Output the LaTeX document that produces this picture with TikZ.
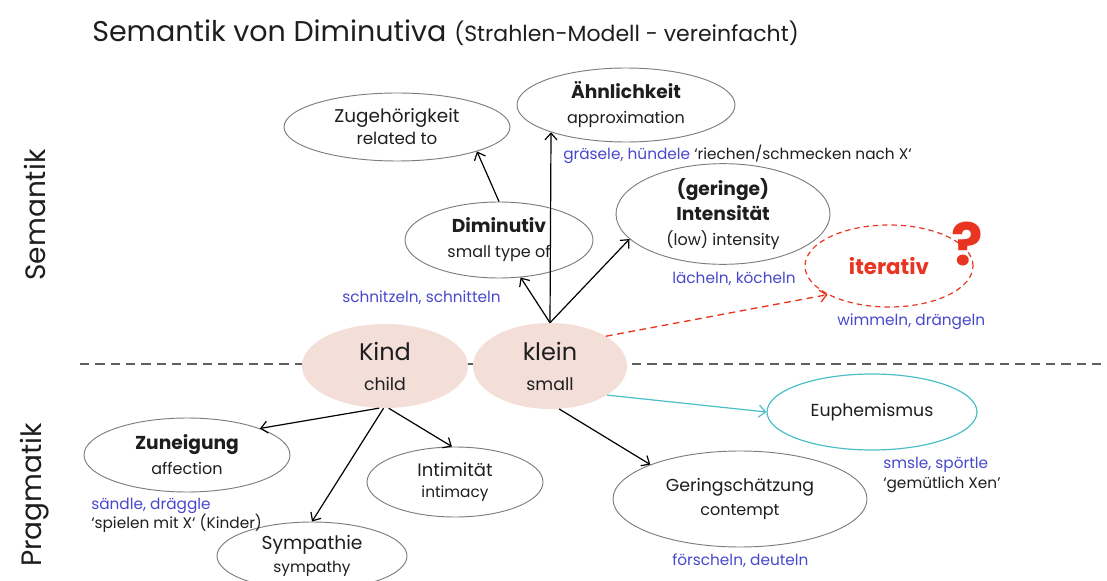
\documentclass[tikz,border=0pt]{standalone}
\usepackage{fontspec}
\setmainfont{Poppins}
\usetikzlibrary{shapes.geometric,arrows.meta}
\definecolor{exblue}{RGB}{72,72,205}
\definecolor{qred}{RGB}{232,52,32}
\definecolor{qcyan}{RGB}{75,190,200}
\definecolor{pinkfill}{RGB}{243,222,216}
\definecolor{ellgray}{RGB}{125,125,125}
\definecolor{sepgray}{RGB}{95,95,95}
\definecolor{txt}{RGB}{30,30,30}
\tikzset{
  ell/.style={ellipse, draw=ellgray, line width=0.7pt, inner sep=0pt, align=center, text=txt,
              font=\fontsize{12}{18.75}\selectfont},
  core/.style={ellipse, fill=pinkfill, draw=none, inner sep=0pt, align=center, text=txt,
              font=\fontsize{13}{22.5}\selectfont},
  arr/.style={-{Straight Barb[length=5pt,width=9pt]}, line width=0.9pt, draw=black},
  ex/.style={text=exblue, font=\fontsize{11.5}{14}\selectfont, anchor=base west, inner sep=0pt},
  gloss/.style={text=txt, font=\fontsize{11.5}{14}\selectfont, anchor=base west, inner sep=0pt},
  side/.style={rotate=90, text=txt, font=\fontsize{21}{24}\selectfont, inner sep=0pt}
}
\begin{document}
\begin{tikzpicture}[x=0.75pt,y=-0.75pt]
\useasboundingbox (0,0) rectangle (1107,581);
\begin{scope}
\clip (0,0) rectangle (1107,581);

% title
\node[anchor=base west, inner sep=0pt, text=txt] (title) at (92,42)
  {\fontsize{21.4}{25}\selectfont Semantik von Diminutiva\hspace{6pt}\fontsize{16.5}{19}\selectfont(Strahlen-Modell - vereinfacht)};

% side labels
\node[side] (sem) at (35,215) {Semantik};
\node[side] (prag) at (35,495) {Pragmatik};

% separator
\coordinate (sepL) at (80,364);
\coordinate (sepR) at (1107,364);
\draw[sepgray, line width=1.9pt, dash pattern=on 7pt off 4.5pt] (sepL) -- (sepR);

% semantic ellipses
\node[ell, minimum width=169.5pt, minimum height=51pt, font=\fontsize{12.5}{16.5}\selectfont] (zug) at (397,127)
  {{\fontsize{13.8}{16.5}\selectfont Zugehörigkeit}\\related to};
\node[ell, minimum width=163.5pt, minimum height=55.5pt] (ahn) at (626,105)
  {{\bfseries\fontsize{14}{18.75}\selectfont Ähnlichkeit}\\approximation};
\node[ell, minimum width=141pt, minimum height=57pt] (dim) at (499,240)
  {{\bfseries\fontsize{14}{18.75}\selectfont Diminutiv}\\small type of};
\node[ell, minimum width=160.5pt, minimum height=69pt] (int) at (723,214)
  {{\bfseries\fontsize{14}{18.75}\selectfont (geringe)}\\{\bfseries\fontsize{14}{18.75}\selectfont Intensität}\\(low) intensity};
\node[ell, draw=qred, dash pattern=on 4pt off 3pt, line width=0.9pt, minimum width=126pt, minimum height=61.5pt,
      text=qred, font=\bfseries\fontsize{16}{20}\selectfont] (iter) at (889,266) {iterativ};
\node[text=qred, font=\bfseries\fontsize{44}{46}\selectfont, inner sep=0pt] (q) at (967,244) {?};

% core ellipses
\node[core, minimum width=124.5pt, minimum height=63pt] (kind) at (385,366)
  {{\fontsize{18}{22.5}\selectfont Kind}\\child};
\node[core, minimum width=115.5pt, minimum height=64.5pt] (klein) at (550,366)
  {{\fontsize{18}{22.5}\selectfont klein}\\small};

% pragmatic ellipses
\node[ell, draw=qcyan, line width=0.9pt, minimum width=157.5pt, minimum height=57pt,
      font=\fontsize{13}{18}\selectfont] (eup) at (872,412) {Euphemismus};
\node[ell, minimum width=154.5pt, minimum height=55.5pt] (zun) at (187,455)
  {{\bfseries\fontsize{14}{18}\selectfont Zuneigung}\\affection};
\node[ell, minimum width=132pt, minimum height=52.5pt, font=\fontsize{11.5}{16}\selectfont] (intim) at (455,482)
  {{\fontsize{13.5}{16}\selectfont Intimität}\\intimacy};
\node[ell, minimum width=142.5pt, minimum height=51pt, font=\fontsize{11.5}{17.5}\selectfont] (sym) at (312,556)
  {{\fontsize{14}{17.5}\selectfont Sympathie}\\sympathy};
\node[ell, minimum width=190.5pt, minimum height=72pt, font=\fontsize{12}{17.5}\selectfont] (ger) at (740,499)
  {{\fontsize{13}{17.5}\selectfont Geringschätzung}\\contempt};

% examples
\node[ex] (exahn) at (563,160) {gräsele, hündele \textcolor{txt}{‘riechen/schmecken nach X‘}};
\node[ex] (exdim) at (342,302) {schnitzeln, schnitteln};
\node[ex] (exint) at (672,283) {lächeln, köcheln};
\node[ex] (exiter) at (837,325) {wimmeln, drängeln};
\node[ex] (exzun) at (91,509) {sändle, dräggle};
\node[gloss] (glzun) at (91,528) {‘spielen mit X‘ (Kinder)};
\node[ex] (exeup) at (883,468) {smsle, spörtle};
\node[gloss] (gleup) at (883,488) {‘gemütlich Xen’};
\node[ex] (exger) at (672,565) {förscheln, deuteln};

% connectors
\draw[arr] (klein.north) -- (ahn.200);
\draw[arr] (klein.north) -- (int.195);
\draw[arr] (klein.north) -- (dim.300);
\draw[arr] (dim.north) -- (zug.343);
\draw[arr, draw=qred, dash pattern=on 5pt off 3.5pt, line width=1pt] (klein.28) -- (iter.205);
\draw[arr, draw=qcyan] (klein.333) -- (eup.west);
\draw[arr] (klein.282) -- (ger.159);
\draw[arr] (kind.262) -- (zun.20);
\draw[arr] (kind.268) -- (sym.north);
\draw[arr] (kind.275) -- (intim.95);
\end{scope}
\end{tikzpicture}
\end{document}
